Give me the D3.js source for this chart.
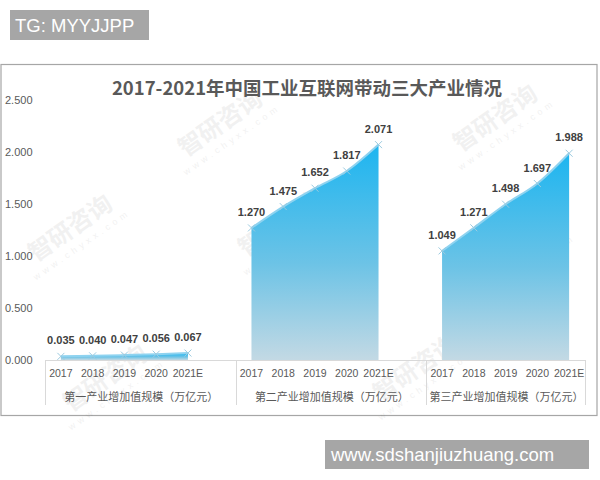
<!DOCTYPE html>
<html><head><meta charset="utf-8">
<script src="https://cdn.jsdelivr.net/npm/d3@7"></script>
<style>body{margin:0;background:#fff;}svg{display:block;}</style>
</head><body>
<svg id="c" width="600" height="480"></svg>
<script>
const title = "2017-2021年中国工业互联网带动三大产业情况";
const years = ["2017","2018","2019","2020","2021E"];
const groupNames = ["第一产业增加值规模（万亿元）","第二产业增加值规模（万亿元）","第三产业增加值规模（万亿元）"];
const primary = [0.035,0.040,0.047,0.056,0.067];
const secondary = [1.270,1.475,1.652,1.817,2.071];
const tertiary = [1.049,1.271,1.498,1.697,1.988];
const yTicks = [0,0.5,1.0,1.5,2.0,2.5];
const series = [primary, secondary, tertiary];

const svg = d3.select("#c");
const font = "'Liberation Sans', Arial, sans-serif";
const cjk = "'Noto Sans CJK SC', 'Liberation Sans', sans-serif";

// top watermark box
svg.append("rect").attr("x",10).attr("y",10).attr("width",139).attr("height",30).attr("fill","#a6a6a6");
svg.append("text").attr("x",15).attr("y",32).attr("font-family",font).attr("font-size",18.5).attr("fill","#fff").text("TG: MYYJJPP");

// frame
svg.append("rect").attr("x",1).attr("y",64.5).attr("width",596).attr("height",351).attr("fill","#fff").attr("stroke","#a6a6a6").attr("stroke-width",1.2);

// watermarks (faint)
const wm = [[225,130],[75,235],[320,300],[500,125],[520,260],[420,375],[110,385],[285,230]];
wm.forEach(([x,y])=>{
  const g = svg.append("g").attr("transform",`translate(${x},${y}) rotate(-35)`).attr("opacity",0.08);
  g.append("text").attr("text-anchor","middle").attr("font-family",cjk).attr("font-weight","bold").attr("font-size",24).attr("fill","#555").text("智研咨询");
  g.append("text").attr("text-anchor","middle").attr("y",15).attr("font-family",font).attr("font-size",9).attr("letter-spacing",4).attr("fill","#555").text("www.chyxx.com");
});

// scales
const slots = d3.range(17);
const x = d3.scaleBand().domain(slots).range([45,585]);
const y = d3.scaleLinear().domain([0,2.5]).range([360,100]);

// title
svg.append("text").attr("x",307).attr("y",95).attr("text-anchor","middle").attr("font-family",cjk).attr("font-weight","bold").attr("font-size",18.5).attr("fill","#595959").text(title);

// y axis labels
const yAxis = d3.axisLeft(y).tickValues(yTicks).tickFormat(d3.format(".3f")).tickSize(0);
const ya = svg.append("g").attr("transform","translate(5,0)").call(yAxis);
ya.select(".domain").remove();
ya.selectAll("text").attr("text-anchor","start").attr("x",0).attr("font-family",font).attr("font-size",11).attr("fill","#595959");

// gradient
const defs = svg.append("defs");
const grad = defs.append("linearGradient").attr("id","ag").attr("x1",0).attr("y1",0).attr("x2",0).attr("y2",1);
grad.append("stop").attr("offset","0%").attr("stop-color","#1db5f0");
grad.append("stop").attr("offset","55%").attr("stop-color","#6cc3e6");
grad.append("stop").attr("offset","100%").attr("stop-color","#c3d9e4");

series.forEach((vals,g)=>{
  const pts = vals.map((v,i)=>({slot:g*6+i, v}));
  const cx = d => x(d.slot)+x.bandwidth()/2;
  const area = d3.area().x(cx).y0(y(0)).y1(d=>y(d.v)).curve(d3.curveMonotoneX);
  const line = d3.line().x(cx).y(d=>y(d.v)).curve(d3.curveMonotoneX);
  svg.append("path").datum(pts).attr("d",area).attr("fill","url(#ag)");
  svg.append("path").datum(pts).attr("d",line).attr("fill","none").attr("stroke","#8fd3f0").attr("stroke-width",2);
  pts.forEach(d=>{
    const px = cx(d), py = y(d.v), s=3.5;
    svg.append("path").attr("d",`M${px-s},${py-s}L${px+s},${py+s}M${px-s},${py+s}L${px+s},${py-s}`).attr("stroke","#9ccbe0").attr("stroke-width",1);
  });
  svg.selectAll(null).data(pts).enter().append("text")
    .attr("x",cx).attr("y",d=>y(d.v)-12).attr("text-anchor","middle")
    .attr("font-family",font).attr("font-weight","bold").attr("font-size",11).attr("fill","#404040")
    .text(d=>d3.format(".3f")(d.v));
  svg.selectAll(null).data(pts).enter().append("text")
    .attr("x",cx).attr("y",377).attr("text-anchor","middle")
    .attr("font-family",font).attr("font-size",10.5).attr("fill","#595959")
    .text((d,i)=>years[i]);
  const gx0 = x(g*6), gx1 = g<2 ? x(g*6+6) : x.range()[1];
  svg.append("text").attr("x",(gx0+gx1)/2 + 1).attr("y",401).attr("text-anchor","middle")
    .attr("font-family",cjk).attr("font-size",11).attr("fill","#595959").text(groupNames[g]);
});

// category axis
svg.append("line").attr("x1",45).attr("x2",585).attr("y1",360.5).attr("y2",360.5).attr("stroke","#d9d9d9");
[0,6,12,17].forEach(s=>{
  const xx = s===17 ? x.range()[1] : x(s);
  svg.append("line").attr("x1",Math.round(xx)+0.5).attr("x2",Math.round(xx)+0.5).attr("y1",360).attr("y2",405).attr("stroke","#d9d9d9");
});

// bottom watermark box
svg.append("rect").attr("x",325).attr("y",440).attr("width",264).attr("height",29).attr("fill","#a6a6a6");
svg.append("text").attr("x",331).attr("y",461).attr("font-family",font).attr("font-size",18.5).attr("fill","#fff").text("www.sdshanjiuzhuang.com");
</script>
</body></html>
